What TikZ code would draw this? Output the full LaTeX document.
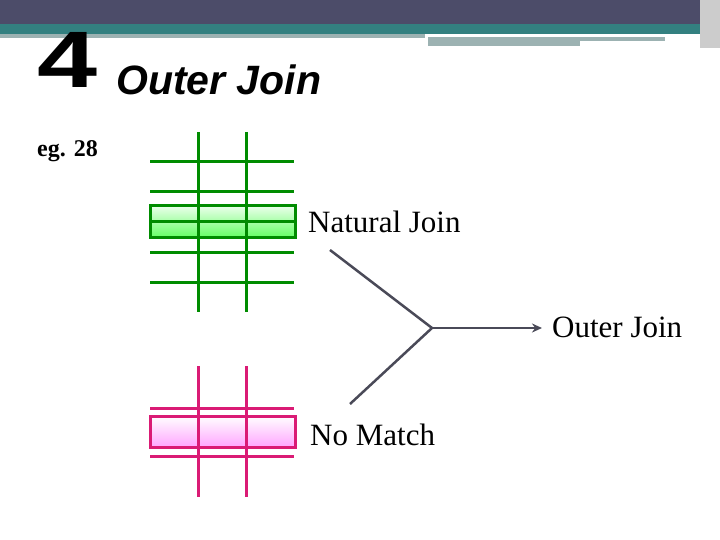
\documentclass[tikz,border=0pt]{standalone}
\usepackage{fontspec}
\setmainfont{Liberation Serif}
\newfontfamily\hd{Liberation Sans}
\usetikzlibrary{arrows.meta}
\definecolor{conc}{HTML}{4A4A58}
\begin{document}
\begin{tikzpicture}[x=1pt,y=-1pt,
 gl/.style={draw=green!55!black,line width=3pt},
 ml/.style={draw=magenta!80!red!90!black,line width=3pt},
 con/.style={draw=conc,line width=2.5pt},
 lbl/.style={font=\fontsize{31}{34}\selectfont,anchor=west,inner sep=0pt}]
\useasboundingbox (0,0) rectangle (720,540);
\fill[white] (0,0) rectangle (720,540);
\fill[black!72!blue!40!gray] (0,0) rectangle (720,24);
\fill[teal!60!gray] (0,24) rectangle (720,34);
\fill[teal!30!gray!60] (0,34) rectangle (425,38);
\fill[teal!30!gray!60] (428,37) rectangle (665,41);
\fill[teal!30!gray!60] (428,41) rectangle (580,46);
\fill[gray!40] (700,0) rectangle (720,48);
\node[font=\hd\bfseries\fontsize{80}{80}\selectfont,inner sep=0pt,anchor=base west,xscale=1.35] (num) at (37,88) {4};
\node[font=\hd\bfseries\itshape\fontsize{41}{41}\selectfont,inner sep=0pt,anchor=base west] (ttl) at (116,95) {Outer Join};
\node[font=\bfseries\fontsize{24}{26}\selectfont,inner sep=0pt,anchor=west] (eg) at (37,151) {eg. 28};
% green
\shade[top color=green!8,bottom color=green!60] (150,206) rectangle (295,237);
\foreach \y in {162,192,222,252,282} \draw[gl] (150,\y) -- (294,\y);
\draw[gl] (150,206) rectangle (295,237);
\foreach \x in {198,246} \draw[gl] (\x,132) -- (\x,312);
% magenta
\shade[top color=white,bottom color=magenta!35] (150,416) rectangle (295,447);
\foreach \y in {408,456} \draw[ml] (150,\y) -- (294,\y);
\draw[ml] (150,416) rectangle (295,447);
\foreach \x in {198,246} \draw[ml] (\x,366) -- (\x,497);
\node[lbl] (nj) at (308,222) {Natural Join};
\node[lbl] (oj) at (552,327) {Outer Join};
\node[lbl] (nm) at (310,435) {No Match};
\coordinate (a) at (330,250);
\coordinate (b) at (350,404);
\coordinate (m) at (432,328);
\coordinate (e) at (542,328);
\draw[con] (a) -- (m) -- (b);
\draw[con,line width=2pt,-{Stealth[length=10pt,width=9pt]}] (m) -- (e);
\end{tikzpicture}
\end{document}
